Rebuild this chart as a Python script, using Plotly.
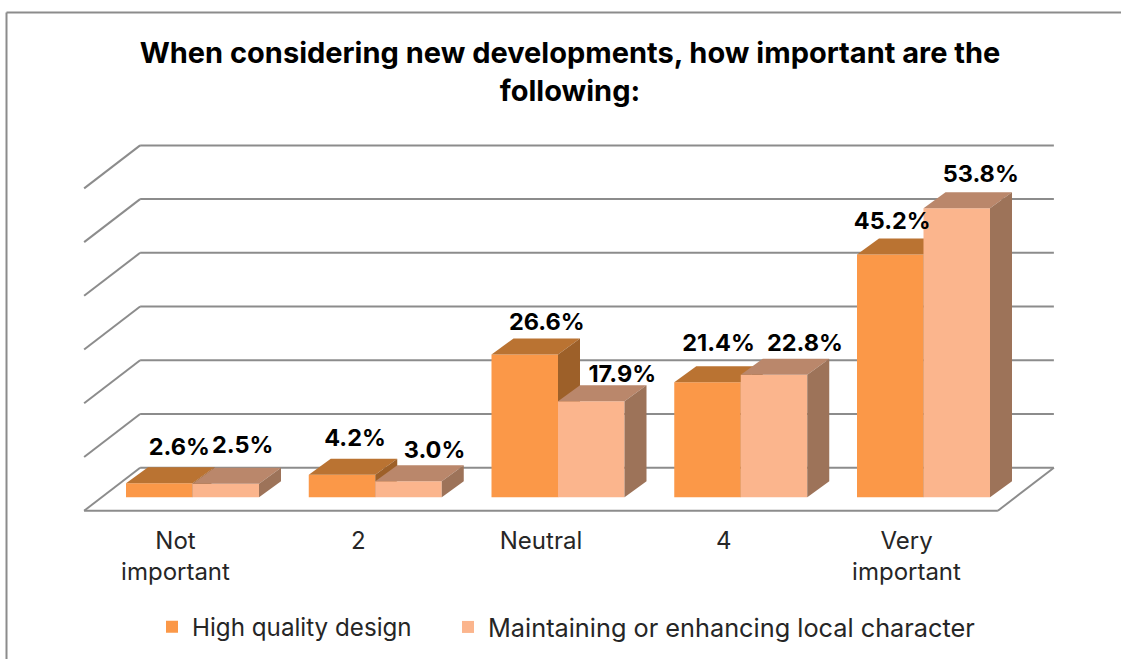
import plotly.graph_objects as go

# ---- data ----
categories = ["Not<br>important", "2", "Neutral", "4", "Very<br>important"]
series_names = ["High quality design", "Maintaining or enhancing local character"]
high_quality = [2.6, 4.2, 26.6, 21.4, 45.2]
local_character = [2.5, 3.0, 17.9, 22.8, 53.8]
grid_values = [0, 10, 20, 30, 40, 50, 60]
title_text = "When considering new developments, how important are the<br>following:"

# ---- geometry / style ----
W, H = 1121, 659
PX_X = 182.75          # pixels per category
PX_Y = 5.372           # pixels per percentage point
X0_PX = 175.5          # pixel of category 0
Y0_PX = 510.7          # pixel of value 0 on the front edge of the floor
xr = [-X0_PX / PX_X, (W - X0_PX) / PX_X]
yr = [(Y0_PX - H) / PX_Y, Y0_PX / PX_Y]

wall_dx, wall_dy = 56 / PX_X, 43 / PX_Y      # depth of the chart box
bar_dx, bar_dy = 22 / PX_X, 16 / PX_Y        # depth of a bar
bar_base = 13.4 / PX_Y
bar_w = 66.5 / PX_X
group_shift = 17 / PX_X
GRID = "#8C8C8C"
FONT = "Inter"

# per-label nudges from the bar's front-top-centre, in pixels
nudge_a = [(20, -34), (13, -35), (22, -30), (11, -37), (2, -31)]
nudge_b = [(17, -37), (26, -29), (31, -25), (31, -30), (24, -32)]

colors = [
    dict(front="#FB9848", top="#BA7332", side="#9D6029"),
    dict(front="#FBB58D", top="#BA876B", side="#9D7359"),
]

fig = go.Figure()


def add_series(values, offset, col, name, xa, ya, legend):
    xs = [i + group_shift + offset for i in range(len(values))]
    fig.add_trace(go.Bar(
        x=xs, y=values, base=[bar_base] * len(values), width=bar_w, name=name,
        marker=dict(color=col["front"], line=dict(width=0)),
        xaxis=xa, yaxis=ya, hoverinfo="skip", showlegend=True, legend=legend,
    ))
    for x, v in zip(xs, values):
        l, r = x - bar_w / 2, x + bar_w / 2
        t = bar_base + v
        fig.add_trace(go.Scatter(
            x=[l, r, r + bar_dx, l + bar_dx, l], y=[t, t, t + bar_dy, t + bar_dy, t],
            fill="toself", fillcolor=col["top"], mode="lines", line=dict(width=0),
            xaxis=xa, yaxis=ya, hoverinfo="skip", showlegend=False))
        fig.add_trace(go.Scatter(
            x=[r, r + bar_dx, r + bar_dx, r, r],
            y=[bar_base, bar_base + bar_dy, t + bar_dy, t, bar_base],
            fill="toself", fillcolor=col["side"], mode="lines", line=dict(width=0),
            xaxis=xa, yaxis=ya, hoverinfo="skip", showlegend=False))
    return xs


xs_a = add_series(high_quality, -bar_w / 2, colors[0], series_names[0], "x", "y", "legend")
xs_b = add_series(local_character, bar_w / 2, colors[1], series_names[1], "x2", "y2", "legend2")

# data labels
for xs, vals, nudge in [(xs_a, high_quality, nudge_a), (xs_b, local_character, nudge_b)]:
    fig.add_trace(go.Scatter(
        x=[x + n[0] / PX_X for x, n in zip(xs, nudge)],
        y=[bar_base + v - n[1] / PX_Y for v, n in zip(vals, nudge)],
        text=[f"{v:.1f}%" for v in vals], mode="text", textposition="middle center",
        textfont=dict(family=FONT, size=23.5, color="#000000", weight="bold"),
        xaxis="x2", yaxis="y2", hoverinfo="skip", showlegend=False))

# box: gridlines on the left wall and back wall, floor outline
n = len(categories)
left, right = -0.5, n - 0.5
shapes = []


def seg(x0, y0, x1, y1):
    shapes.append(dict(type="line", xref="x", yref="y", x0=x0, y0=y0, x1=x1, y1=y1,
                       layer="below", line=dict(color=GRID, width=2)))


for g in grid_values:
    seg(left, g, left + wall_dx, g + wall_dy)
    seg(left + wall_dx, g + wall_dy, right + wall_dx, g + wall_dy)
seg(left, 0, right, 0)
seg(right, 0, right + wall_dx, wall_dy)

# outer frame of the chart (top and left only are in view)
shapes.append(dict(type="line", xref="paper", yref="paper", x0=6.5 / W, x1=6.5 / W,
                   y0=0, y1=1 - 12.5 / H, line=dict(color=GRID, width=2)))
shapes.append(dict(type="line", xref="paper", yref="paper", x0=6.5 / W, x1=1,
                   y0=1 - 12.5 / H, y1=1 - 12.5 / H, line=dict(color=GRID, width=2)))

hidden = dict(showgrid=False, zeroline=False, showline=False, showticklabels=False, ticks="")
fig.update_layout(
    width=W, height=H, margin=dict(l=0, r=0, t=0, b=0), autosize=False,
    paper_bgcolor="white", plot_bgcolor="white", barmode="overlay", shapes=shapes,
    font=dict(family=FONT, color="#262626"),
    title=dict(text=title_text, x=570 / W, xanchor="center", y=1 - 63 / H, yanchor="top",
               font=dict(family=FONT, size=29, color="#000000", weight="bold")),
    xaxis=dict(range=xr, domain=[0, 1], anchor="free", position=(H - Y0_PX) / H,
               tickmode="array", tickvals=list(range(n)), ticktext=categories,
               showgrid=False, zeroline=False, showline=False, ticks="",
               tickfont=dict(family=FONT, size=24, color="#262626"), ticklabelstandoff=13),
    yaxis=dict(range=yr, domain=[0, 1], **hidden),
    xaxis2=dict(range=xr, overlaying="x", anchor="y2", **hidden),
    yaxis2=dict(range=yr, overlaying="y", anchor="x2", **hidden),
    legend=dict(orientation="h", x=152 / W, xanchor="left", y=1 - 627 / H, yanchor="middle",
                font=dict(family=FONT, size=24.2, color="#262626"), bgcolor="rgba(0,0,0,0)"),
    legend2=dict(orientation="h", x=448 / W, xanchor="left", y=1 - 627 / H, yanchor="middle",
                 font=dict(family=FONT, size=25.3, color="#262626"), bgcolor="rgba(0,0,0,0)"),
)

fig.write_html("out.html", post_script="document.body.style.margin='0';",
               config={"displayModeBar": False})
